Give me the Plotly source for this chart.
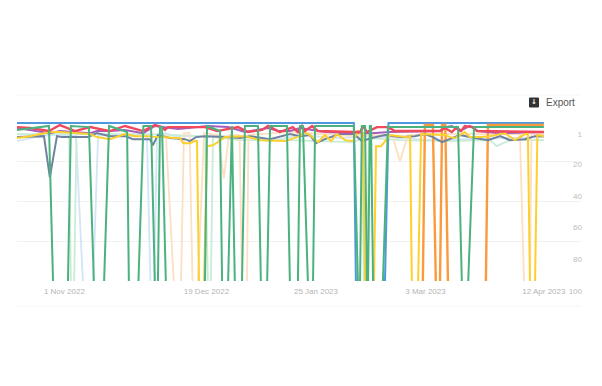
import pandas as pd
import plotly.graph_objects as go

START = pd.Timestamp("2022-10-16")
OFF = 102  # rank past the bottom of the chart

# (days since START, rank)
LIGHT_BLUE = [(0,12),(6.1,9.5),(11.1,8.2),(19.9,8.2),(22.3,OFF),(25.7,OFF),(27.4,8.2),(36.5,8.9),(43.9,8.9),(45.1,OFF),(46.3,OFF),(47.3,7.6),(50,7),(53.4,8.9),(61.8,8.9),(75.3,8.9),(85.5,12),(95.6,8.2),(109.1,10.1),(119.9,8.9),(139.5,11.4),(163.2,10.1),(178,9.5)]
LIGHT_GREEN = [(0,7.6),(17.6,7.6),(18.2,OFF),(19.3,OFF),(20.1,7.6),(43.2,7.6),(63.5,8.9),(64.5,OFF),(65.5,OFF),(66.2,9.5),(75.3,11.4),(92.2,11.4),(101.7,12),(113.8,12.7),(116.5,10.1),(117.2,OFF),(118.2,OFF),(118.9,10.1),(129.4,11.4),(144.6,12),(159.8,11.4),(162.1,15.2),(166.5,11.4),(178,11.4)]
LIGHT_ORANGE = [(50.3,7.6),(53,OFF),(55.4,OFF),(56.4,7),(58.3,7),(59.3,OFF),(61.1,OFF),(63.2,7),(67.9,8.2),(69.9,35.4),(71.6,8.2),(74.7,8.2),(75.2,8.2),(76,OFF),(77.7,OFF),(78.2,8.2),(92.2,6.3),(113.8,8.9),(126.7,8.2),(129.4,24.7),(132.1,8.2),(139.5,7.6),(169.9,7.6),(171.3,OFF),(173.3,OFF),(173.8,7.6),(178,7.6)]
BLUE = [(0,0.7),(113.8,0.7),(114.5,OFF),(124.3,OFF),(125.5,0.7),(178,0.7)]
ORANGE = [(137.1,OFF),(137.8,1.9),(140.5,1.9),(141.5,OFF),(142.9,OFF),(143.6,1.9),(144.7,1.9),(145.6,OFF),(158.4,OFF),(159.1,1.9),(178,1.9)]
PURPLE = [(0,3.8),(4.4,5),(11.1,7),(14.5,5.7),(24.7,7),(27,5.7),(31.4,5.7),(36.5,5),(42.6,7),(46.6,2.5),(50,3.2),(54.4,4.4),(64.5,2.5),(71.3,3.2),(77,6.3),(84.8,3.8),(88.2,5.7),(92.2,5.7),(95.6,3.8),(99,5),(104,6.3),(113.8,7),(119.9,7),(126,6.3),(142.9,5.7),(144.6,3.2),(146.9,2.5),(149.6,5.7),(153,2.5),(155.7,5.7),(163.2,7),(178,6.3)]
RED = [(0,3.2),(4.4,3.8),(10.8,5.7),(14.5,1.9),(19.6,5.7),(24.7,3.2),(31.4,5.7),(36.5,2.5),(42.6,5.7),(46.6,1.9),(49,3.2),(50,5),(51,3.2),(63.5,3.2),(67.6,5.7),(74.7,3.2),(78,6.3),(82.8,5),(84.8,2.5),(88.8,6.3),(93.2,3.2),(94.9,6.3),(96.3,2.5),(97.3,5.7),(99.7,2.5),(101.7,5.7),(113.8,6.3),(115.9,6.3),(116.9,2.5),(118.2,6.3),(121.6,3.2),(125.3,3.2),(127.7,5.7),(142.9,5.7),(144.6,3.8),(146.9,6.3),(148.6,3.2),(150,5.7),(151.3,2.5),(154,3.2),(155.4,5.7),(178,6.3)]
SLATE = [(0,9.5),(9.1,8.9),(11.1,34.8),(13.5,8.9),(15.2,9.5),(24,9.5),(27,7),(31.4,8.9),(36.5,8.9),(39.2,10.8),(44.9,10.8),(45.9,14.6),(47.6,8.2),(51.7,10.1),(56.8,10.8),(58.4,12),(60.5,9.5),(63.5,8.9),(70.3,9.5),(75.3,10.1),(78.7,8.9),(85.5,10.8),(92.2,7.6),(95.6,8.9),(99,8.2),(101,13.3),(104,10.8),(109.1,7.6),(113.8,7.6),(116.5,12),(119.9,10.1),(124.3,8.2),(129.4,9.5),(134.4,8.9),(137.8,7.6),(140.5,9.5),(143.6,12.7),(149.6,8.2),(154.7,10.1),(159.1,11.4),(163.2,8.9),(166.5,11.4),(171.6,10.8),(175,8.9),(178,8.9)]
YELLOW = [(0,10.1),(4.4,8.9),(11.1,6.3),(14.5,6.3),(24.7,7.6),(27,9.5),(31.4,10.8),(36.5,7.6),(39.9,8.9),(44.9,8.9),(46.6,9.5),(49.3,9.5),(53.4,10.1),(55.1,10.1),(56.1,13.3),(58.4,13.3),(60.1,12),(60.8,12),(61.5,OFF),(63.2,OFF),(64.2,15.2),(66.2,14.6),(70.3,9.5),(77,8.9),(82.1,11.4),(90.5,12),(95.6,8.9),(97,6.3),(99,8.2),(101.7,12.7),(104,8.2),(106.1,12),(108.1,7.6),(110.8,11.4),(113.5,12),(115.2,5.7),(115.9,7),(116.9,7),(117.6,OFF),(120.6,OFF),(121.3,15.2),(123,15.2),(126,8.2),(131.1,9.5),(132.8,8.9),(133.4,OFF),(135.5,OFF),(136.5,7.6),(144.6,8.2),(146.3,9.5),(148,10.1),(151.3,6.3),(153,9.5),(156.4,9.5),(159.8,8.9),(164.8,7),(168.2,11.4),(171.6,7.6),(172.6,7.6),(173.3,OFF),(175,OFF),(175.8,8.2),(178,8.9)]
GREEN = [(0,5),(10.8,2.5),(12.2,OFF),(17.2,OFF),(18.2,2.5),(24.3,3.2),(26,OFF),(29.4,OFF),(31.1,2.5),(37.2,6.3),(37.8,OFF),(41,OFF),(42.7,2.5),(45.3,2.5),(46.6,OFF),(47.6,OFF),(48.3,3.2),(49,3.2),(50.3,OFF),(63.5,OFF),(64.2,2.5),(68.6,5.7),(69.3,OFF),(71.3,OFF),(72.6,2.5),(73.6,OFF),(76,OFF),(77,2.5),(81.4,2.5),(82.4,OFF),(84.5,OFF),(85.5,2.5),(91.2,2.5),(92.2,OFF),(94.9,OFF),(95.6,2.5),(96.6,2.5),(98.3,OFF),(100,OFF),(100.7,2.5),(113.8,2.5),(115.2,OFF),(115.9,OFF),(116.5,2.5),(117.6,2.5),(118.2,OFF),(118.6,OFF),(119.2,2.5),(119.6,2.5),(120.3,OFF),(123.6,OFF),(125.3,3.2),(149,3.2),(150.3,OFF),(152.4,OFF),(154.4,3.2),(178,3.2)]

X_TICK_DATES = ["2022-11-01","2022-12-19","2023-01-25","2023-03-03","2023-04-12"]
X_TICK_TEXT = ["1 Nov 2022","19 Dec 2022","25 Jan 2023","3 Mar 2023","12 Apr 2023"]
Y_TICKS = [1,20,40,60,80,100]

SERIES = [
    (LIGHT_BLUE,"#d3e5f6",1.8),(LIGHT_GREEN,"#c9ecd6",1.8),(LIGHT_ORANGE,"#fddfc2",1.8),
    (BLUE,"#4f97de",2),(ORANGE,"#fb9a3c",2.4),(SLATE,"#6f83a1",2),(PURPLE,"#a45fbd",2),
    (YELLOW,"#fdd02f",2),(RED,"#f0485c",2.4),(GREEN,"#4bb27f",2),
]

W,H = 602,386
L,R,T,B = 17,585,100,300   # outer plot box
GRID_R = 581               # right end of the grid
PW,PH = R-L,B-T
def fy(px): return (B-px)/PH
def fx(px): return (px-L)/PW
def day(d): return (START+pd.Timedelta(days=d)).strftime("%Y-%m-%d %H:%M:%S")

fig = go.Figure()
for pts,color,width in SERIES:
    fig.add_trace(go.Scatter(
        x=[day(d) for d,_ in pts],
        y=[r for _,r in pts],
        mode="lines",line=dict(color=color,width=width,shape="linear"),
        hoverinfo="skip",showlegend=False))
# invisible trace so the label axis is drawn
fig.add_trace(go.Scatter(x=[day(0)],y=[1],yaxis="y2",mode="markers",marker=dict(opacity=0,size=1),
                         hoverinfo="skip",showlegend=False))

fig.update_layout(
    width=W,height=H,margin=dict(l=L,r=W-R,t=T,b=H-B),
    paper_bgcolor="white",plot_bgcolor="rgba(0,0,0,0)",
    font=dict(family="Liberation Sans, Arial, sans-serif",size=8,color="#bdbdbd"),
    xaxis=dict(type="date",domain=[0,fx(GRID_R)],
        range=[day(0),day((GRID_R-L)/2.96)],
        tickmode="array",tickvals=X_TICK_DATES,ticktext=X_TICK_TEXT,
        showgrid=False,zeroline=False,showline=False,ticks="",anchor="y",
        ticklabelstandoff=4,
        tickfont=dict(size=8,color="#b5b5b5")),
    yaxis=dict(domain=[fy(281),fy(122)],range=[100,0],
        tickmode="array",tickvals=[0,25,50,75,100],showticklabels=False,
        showgrid=True,gridcolor="#f1f1f1",gridwidth=1,zeroline=False,ticks=""),
    yaxis2=dict(domain=[0,1],range=[105.6,-20.3],anchor="free",position=1,side="right",
        tickmode="array",tickvals=Y_TICKS,
        ticklabelposition="inside",showgrid=False,zeroline=False,showline=False,ticks="",
        tickfont=dict(size=8,color="#bdbdbd")),
    shapes=[
        dict(type="line",xref="paper",yref="paper",x0=0,x1=fx(GRID_R),y0=fy(95),y1=fy(95),line=dict(color="#f6f6f6",width=1)),
        dict(type="line",xref="paper",yref="paper",x0=0,x1=fx(GRID_R),y0=fy(306),y1=fy(306),line=dict(color="#f6f6f6",width=1)),
        dict(type="rect",xref="paper",yref="paper",x0=fx(529.5),x1=fx(538.5),y0=fy(107),y1=fy(98),
             fillcolor="#333333",line=dict(color="#333333",width=1)),
    ],
    annotations=[
        dict(text="Export",xref="paper",yref="paper",x=fx(544),y=fy(102.5),xanchor="left",yanchor="middle",
             showarrow=False,font=dict(size=10,color="#555555")),
        dict(text="<b>↓</b>",xref="paper",yref="paper",x=fx(534),y=fy(102.5),xanchor="center",yanchor="middle",
             showarrow=False,font=dict(size=7,color="#ffffff",family="DejaVu Sans")),
    ],
)
fig.write_html("out.html",config={"displayModeBar":False},post_script="document.body.style.margin='0';")
